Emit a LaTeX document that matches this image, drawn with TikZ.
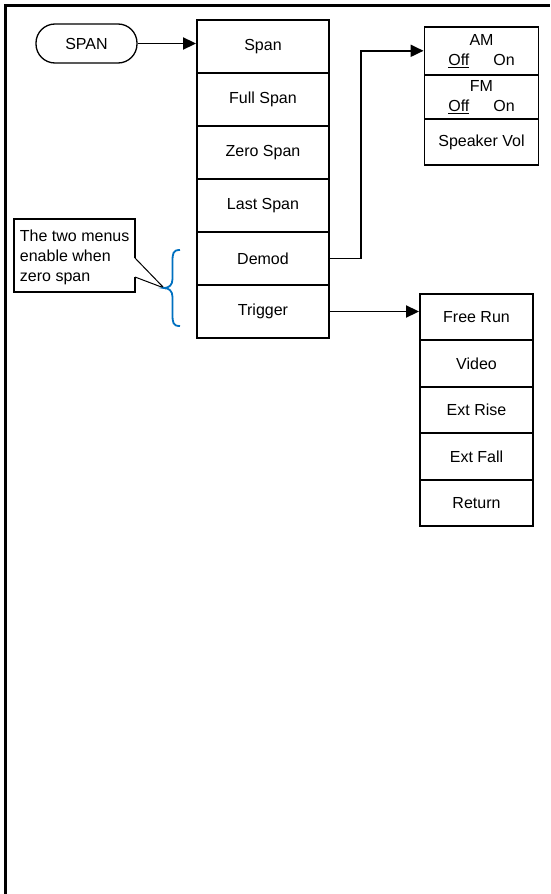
\documentclass[tikz,border=0pt]{standalone}
\usepackage{fontspec}
\setmainfont{Liberation Sans}
\usetikzlibrary{arrows.meta}
\definecolor{braceblue}{RGB}{0,112,192}

\begin{document}
\begin{tikzpicture}[x=1pt, y=-1pt, line width=1.9pt,
        every node/.style={font=\fontsize{16}{20}\selectfont},
        key/.style={draw, line width=1.3pt, rounded corners=19pt, minimum width=101pt, minimum height=39pt},
        menu/.style={draw, minimum width=132pt, minimum height=53pt},
        demodbox/.style={draw, minimum width=114pt, align=center, inner sep=1pt},
        trigbox/.style={draw, minimum width=113pt, minimum height=46.4pt},
        link/.style={-{Triangle[length=13pt,width=12pt]}}]
        \useasboundingbox (0,0) rectangle (550,894);
        \draw[line width=3pt] (5,894) -- (5,5) -- (550,5);
        \node[key] (spankey) at (86.5,43.5) {SPAN};
        % first menu column
        \node[menu] (span) at (263,46.5) {Span};
        \node[menu] (full) at (263,99.5) {Full Span};
        \node[menu] (zero) at (263,152.5) {Zero Span};
        \node[menu] (last) at (263,205.5) {Last Span};
        \node[menu] (demod) at (263,258.5) {Demod};
        \node[menu] (trig) at (263,311.5) {Trigger};
        % demod menu
        \node[demodbox, minimum height=48.3pt] (am) at (481.5,50.8) {AM\\\underline{Off}\hspace{24pt}On};
        \node[demodbox, minimum height=44.3pt] (fm) at (481.5,97.1) {FM\\\underline{Off}\hspace{24pt}On};
        \node[demodbox, minimum height=45.7pt] (vol) at (481.5,142.2) {Speaker Vol};
        % trigger menu
        \node[trigbox] (free) at (476.5,317.2) {Free Run};
        \node[trigbox] (video) at (476.5,363.6) {Video};
        \node[trigbox] (rise) at (476.5,410) {Ext Rise};
        \node[trigbox] (fall) at (476.5,456.4) {Ext Fall};
        \node[trigbox] (ret) at (476.5,502.8) {Return};
        \draw[link] (spankey.east) -- (spankey.east -| span.west);
        \draw[link] (demod.east) -- ++(31,0) |- (am.west);
        \draw[link] (trig.east) -- (trig.east -| free.west);
        % note on the two menus
        \coordinate (tip) at (164,288);
        \draw[line width=1.6pt] (135,258) -- (135,219) -- (14,219) -- (14,292) -- (135,292) -- (135,277);
        \draw[line width=1pt] (135,258) -- (tip) -- (135,277);
        \node[anchor=west, align=left, inner sep=0pt] (note) at (19,257.5) {The two menus\\enable when\\zero span};
        \draw[braceblue, line width=1.8pt] (180,250) .. controls (173,250) and (172.5,253) .. (172.5,262)
            -- (172.5,279) .. controls (172.5,285) and (169,288) .. (tip)
            .. controls (169,288) and (172.5,291) .. (172.5,297)
            -- (172.5,314) .. controls (172.5,323) and (173,326) .. (180,326);
    \end{tikzpicture}
\end{document}
